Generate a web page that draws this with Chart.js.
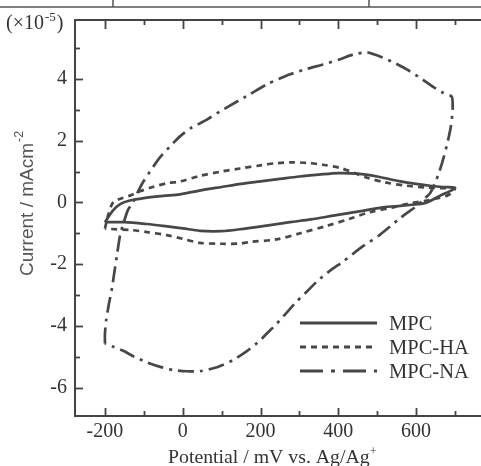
<!DOCTYPE html>
<html>
<head>
<meta charset="utf-8">
<script src="https://cdn.jsdelivr.net/npm/chart.js@4.4.1/dist/chart.umd.min.js"></script>
<style>
html,body{margin:0;padding:0;background:#fff;}
#wrap{width:481px;height:466px;position:relative;}
</style>
</head>
<body>
<div id="wrap"><canvas id="c" width="481" height="466"></canvas></div>
<script>
// ---- data (potential in mV vs Ag/Ag+, current in 1e-5 mA cm^-2) ----
const seriesLabels = ["MPC", "MPC-HA", "MPC-NA"];
const xTicks = [-200, 0, 200, 400, 600];
const yTicks = [-6, -4, -2, 0, 2, 4];

const mpcX = [-200,-179,-160,-136,-100,-50,-7,50,100,150,200,250,300,350,400,450,500,533,560,600,636,670,700,
              690,662,628,603,560,515,450,387,330,276,216,147,100,44,0,-50,-92,-150,-200];
const mpcY = [-0.64,-0.26,-0.05,0.06,0.14,0.21,0.26,0.4,0.5,0.6,0.68,0.76,0.84,0.9,0.95,0.93,0.84,0.75,0.68,0.6,0.54,0.5,0.48,
              0.38,0.22,0.0,-0.06,-0.11,-0.16,-0.3,-0.43,-0.55,-0.64,-0.75,-0.87,-0.93,-0.92,-0.84,-0.76,-0.7,-0.64,-0.64];

const mpcHaX = [-200,-192,-179,-160,-136,-110,-77,-41,-7,44,100,147,200,240,280,319,360,404,440,474,520,576,630,680,700,
                690,680,650,628,580,541,480,430,370,302,240,173,147,100,44,0,-41,-92,-130,-187,-200];
const mpcHaY = [-0.85,-0.42,0.0,0.12,0.22,0.36,0.5,0.62,0.68,0.86,1.0,1.1,1.2,1.27,1.3,1.28,1.22,1.12,0.96,0.8,0.65,0.54,0.48,0.46,0.45,
                0.3,0.22,0.12,0.06,-0.04,-0.16,-0.32,-0.53,-0.76,-1.0,-1.2,-1.28,-1.33,-1.34,-1.31,-1.18,-1.06,-0.96,-0.9,-0.86,-0.85];

const mpcNaX = [-200,-200,-197,-190,-182,-175,-169,-161,-154,-141,-128,-115,-100,-80,-59,-30,-7,20,44,62,100,173,220,276,320,361,400,438,474,507,540,576,610,644,670,692,
                694,690,682,672,660,648,636,620,603,560,507,460,412,380,345,320,294,268,242,220,199,165,129,90,44,10,-25,-60,-92,-125,-154,-180,-200];
const mpcNaY = [-4.57,-4.25,-3.83,-3.3,-2.78,-2.2,-1.7,-1.05,-0.74,-0.25,0.0,0.35,0.7,1.08,1.45,1.85,2.14,2.4,2.56,2.68,2.98,3.51,3.85,4.15,4.33,4.47,4.62,4.79,4.86,4.73,4.55,4.31,4.04,3.74,3.55,3.42,
                3.0,2.5,2.0,1.5,1.0,0.6,0.3,0.1,-0.1,-0.5,-1.05,-1.45,-1.92,-2.2,-2.56,-2.88,-3.2,-3.56,-3.93,-4.2,-4.47,-4.82,-5.11,-5.33,-5.47,-5.47,-5.43,-5.32,-5.18,-5.0,-4.8,-4.67,-4.57];

// ---- styling ----
const INK = '#474747';
const TXT = '#333333';
const SERIF = '"Liberation Serif", "DejaVu Serif", serif';
const SANS = '"Liberation Sans", Arial, sans-serif';
const dashes = [[], [6, 5], [16, 6, 3, 6]];
const legendDashes = [[], [6, 5], [23, 8, 4, 8]];

function pts(xs, ys){ return xs.map((x, i) => ({x: x, y: ys[i]})); }

const datasets = [
  {label: seriesLabels[0], data: pts(mpcX, mpcY), tension: 0.3},
  {label: seriesLabels[1], data: pts(mpcHaX, mpcHaY), tension: 0.3},
  {label: seriesLabels[2], data: pts(mpcNaX, mpcNaY), tension: 0.2}
].map((d, i) => Object.assign(d, {
  showLine: true, fill: false, pointRadius: 0, borderColor: INK,
  borderWidth: 2.7, borderDash: dashes[i], borderCapStyle: 'butt', borderJoinStyle: 'round'
}));

const decor = {
  id: 'decor',
  beforeDraw(chart){
    const ctx = chart.ctx;
    ctx.save();
    ctx.fillStyle = '#fff';
    ctx.fillRect(0, 0, chart.width, chart.height);
    // fragment of the figure above
    ctx.strokeStyle = '#555'; ctx.lineWidth = 1.5;
    ctx.beginPath();
    ctx.moveTo(0, 7); ctx.lineTo(481, 7);
    ctx.moveTo(113, 0); ctx.lineTo(113, 7);
    ctx.moveTo(369, 0); ctx.lineTo(369, 7);
    ctx.stroke();
    ctx.restore();
  },
  afterDraw(chart){
    const ctx = chart.ctx, a = chart.chartArea;
    const xs = chart.scales.x, ys = chart.scales.y;
    ctx.save();
    ctx.strokeStyle = '#444'; ctx.lineWidth = 2;
    // top frame line
    ctx.beginPath(); ctx.moveTo(a.left - 1, a.top); ctx.lineTo(a.right, a.top); ctx.stroke();
    // x ticks (bottom up, top down)
    ctx.lineWidth = 1.8;
    for (let v = -200; v <= 700; v += 100) {
      const px = Math.round(xs.getPixelForValue(v)) + 0.5;
      const major = v % 200 === 0;
      ctx.beginPath();
      ctx.moveTo(px, a.bottom); ctx.lineTo(px, a.bottom - (major ? 8 : 5));
      ctx.moveTo(px, a.top); ctx.lineTo(px, a.top + (major ? 9 : 5));
      ctx.stroke();
    }
    for (let v = -6; v <= 5; v += 1) {
      const py = Math.round(ys.getPixelForValue(v)) + 0.5;
      const major = v % 2 === 0;
      ctx.beginPath();
      ctx.moveTo(a.left, py); ctx.lineTo(a.left + (major ? 8 : 5), py);
      ctx.stroke();
    }
    // legend
    const lx0 = 300, lx1 = 377, ly = [323, 347, 371];
    chart.data.datasets.forEach((d, i) => {
      ctx.strokeStyle = INK; ctx.lineWidth = 3;
      ctx.setLineDash(legendDashes[i]);
      ctx.beginPath(); ctx.moveTo(lx0, ly[i]); ctx.lineTo(lx1, ly[i]); ctx.stroke();
      ctx.setLineDash([]);
      ctx.fillStyle = TXT; ctx.font = '20.5px ' + SERIF;
      ctx.textBaseline = 'alphabetic'; ctx.textAlign = 'left';
      ctx.fillText(d.label, 389, ly[i] + 7);
    });
    // x title
    ctx.fillStyle = TXT; ctx.font = '19.8px ' + SERIF;
    ctx.textAlign = 'left'; ctx.textBaseline = 'alphabetic';
    const t1 = 'Potential / mV vs. Ag/Ag';
    ctx.fillText(t1, 168, 463);
    const w1 = ctx.measureText(t1).width;
    ctx.font = '12px ' + SERIF;
    ctx.fillText('+', 168 + w1, 455);
    // unit multiplier
    ctx.font = '20px ' + SERIF;
    ctx.fillText('(\u00d710', 6, 29);
    let w = ctx.measureText('(\u00d710').width;
    ctx.font = '13px ' + SERIF;
    ctx.fillText('-5', 6 + w + 1, 21);
    const w5 = ctx.measureText('-5').width;
    ctx.font = '20px ' + SERIF;
    ctx.fillText(')', 6 + w + w5 + 2, 29);
    // y title
    ctx.translate(33, 276);
    ctx.rotate(-Math.PI / 2);
    ctx.fillStyle = '#555';
    ctx.font = '19px ' + SANS;
    const t2 = 'Current / mAcm';
    ctx.fillText(t2, 0, 0);
    const w2 = ctx.measureText(t2).width;
    ctx.font = '12.5px ' + SANS;
    ctx.fillText('-2', w2 + 1, -10);
    ctx.restore();
  }
};

new Chart(document.getElementById('c'), {
  type: 'scatter',
  data: {datasets: datasets},
  plugins: [decor],
  options: {
    responsive: false,
    animation: false,
    events: [],
    layout: {padding: {top: 15, left: 0, right: 0, bottom: 0}},
    plugins: {legend: {display: false}, tooltip: {enabled: false}},
    scales: {
      x: {
        type: 'linear', min: -277, max: 767,
        afterBuildTicks(s){ s.ticks = xTicks.map(v => ({value: v})); },
        afterFit(s){ s.height = 50; },
        grid: {display: false, drawTicks: false},
        border: {display: true, color: '#444', width: 2},
        ticks: {color: TXT, font: {family: SERIF, size: 20}, padding: 4, maxRotation: 0,
                callback: v => String(v)}
      },
      y: {
        type: 'linear', min: -6.92, max: 5.91,
        afterBuildTicks(s){ s.ticks = yTicks.map(v => ({value: v})); },
        afterFit(s){ s.width = 75; },
        grid: {display: false, drawTicks: false},
        border: {display: true, color: '#444', width: 2},
        ticks: {color: TXT, font: {family: SERIF, size: 20}, padding: 8,
                callback: v => String(v)}
      }
    }
  }
});
</script>
</body>
</html>
